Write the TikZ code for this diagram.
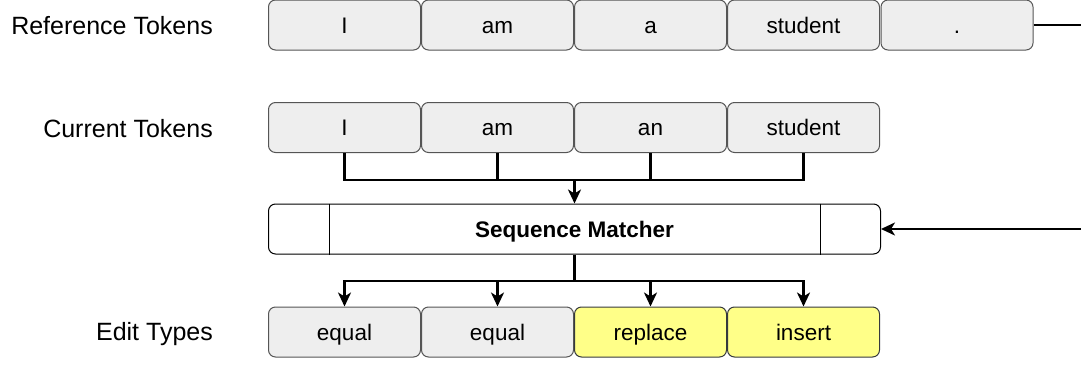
\documentclass[tikz,border=0pt]{standalone}
\usepackage{fontspec}
\setmainfont{Liberation Sans}
\usetikzlibrary{arrows.meta}
\definecolor{boxgray}{HTML}{EEEEEE}
\definecolor{boxline}{HTML}{555555}
\definecolor{ylw}{HTML}{FFFF88}
\definecolor{ylwline}{HTML}{36393D}
\begin{document}
\begin{tikzpicture}[x=1pt,y=-1pt,
  tok/.style={draw=boxline,fill=boxgray,rounded corners=7pt,line width=1pt,minimum width=152pt,minimum height=50pt,inner sep=0pt,text height=16pt,text depth=0pt,font=\fontsize{22.5}{26}\selectfont},
  ytok/.style={tok,fill=ylw,draw=ylwline},
  lbl/.style={anchor=east,inner sep=0pt,text height=18pt,text depth=0pt,font=\fontsize{25}{30}\selectfont},
  wire/.style={line width=2.3pt,black},
  arr/.style={wire,-{Stealth[length=14pt,width=13pt,inset=4pt]}}]
\useasboundingbox (0,0) rectangle (1081,367);
\clip (0,0) rectangle (1081,367);
% labels
\node[lbl] (lref) at (213,25) {Reference Tokens};
\node[lbl] (lcur) at (213,128) {Current Tokens};
\node[lbl] (ledit) at (213,331) {Edit Types};
% reference row
\node[tok] (r1) at (344.5,25) {I};
\node[tok] (r2) at (497.5,25) {am};
\node[tok] (r3) at (650.5,25) {a};
\node[tok] (r4) at (803.5,25) {student};
\node[tok] (r5) at (957,25) {.};
% current row
\node[tok] (c1) at (344.5,127.5) {I};
\node[tok] (c2) at (497.5,127.5) {am};
\node[tok] (c3) at (650.5,127.5) {an};
\node[tok] (c4) at (803.5,127.5) {student};
% sequence matcher
\node[draw=black,fill=white,rounded corners=7pt,line width=1pt,minimum width=612pt,minimum height=50pt,inner sep=0pt,text height=16pt,text depth=0pt,font=\bfseries\fontsize{22.5}{26}\selectfont] (sm) at (574.5,229) {Sequence Matcher};
\draw[line width=0.8pt] ([xshift=61pt]sm.north west) -- ([xshift=61pt]sm.south west);
\draw[line width=0.8pt] ([xshift=-61pt]sm.north east) -- ([xshift=-61pt]sm.south east);
% edit row
\node[tok] (e1) at (344.5,332) {equal};
\node[tok] (e2) at (497.5,332) {equal};
\node[ytok] (e3) at (650.5,332) {replace};
\node[ytok] (e4) at (803.5,332) {insert};
% bus into matcher
\coordinate (busL) at (344.5,180);
\coordinate (busR) at (803.5,180);
\coordinate (busM) at (574.5,180);
\draw[wire] (c1.south) -- (busL) -- (busR) -- (c4.south);
\draw[wire] (c2.south) -- (c2.south |- busL);
\draw[wire] (c3.south) -- (c3.south |- busL);
\draw[arr] (busM) -- (sm.north);
% bus out of matcher
\coordinate (outM) at (574.5,281);
\draw[wire] (sm.south) -- (outM);
\draw[arr] (outM) -| (e1.north);
\draw[arr] (outM) -| (e2.north);
\draw[arr] (outM) -| (e3.north);
\draw[arr] (outM) -| (e4.north);
% reference feed
\coordinate (fr) at (1095,25);
\draw[arr] (r5.east) -- (fr) |- (sm.east);
\end{tikzpicture}
\end{document}
